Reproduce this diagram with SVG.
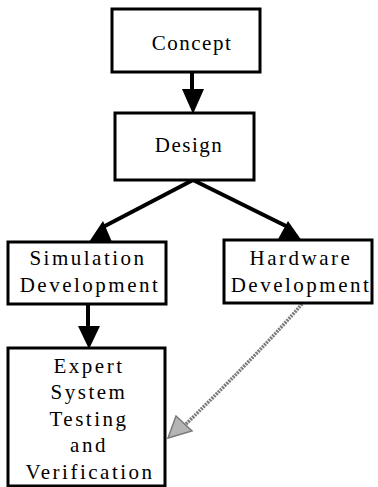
<svg xmlns="http://www.w3.org/2000/svg" width="378" height="487" viewBox="0 0 378 487">
<style>
.box{fill:#fff;stroke:#000;stroke-width:3}
.t{font-family:"Liberation Serif","Times New Roman",serif;font-size:21px;fill:#000;text-anchor:middle;letter-spacing:2.5px}
.c{fill:none;stroke:#000;stroke-width:4}
.h{fill:#000;stroke:none}
</style>
<rect width="378" height="487" fill="#fff"/>
<g id="connectors">
<line class="c" x1="192" y1="72" x2="192" y2="92" stroke-width="3"/>
<polygon class="h" points="182,89 204,89 193,114"/>
<line class="c" x1="193" y1="180" x2="103" y2="227"/>
<polygon class="h" points="89,242 112,242 103,221"/>
<line class="c" x1="193" y1="180" x2="288" y2="227"/>
<polygon class="h" points="277,241 302,241 288,221"/>
<line class="c" x1="88" y1="304" x2="88" y2="330" stroke-width="3"/>
<polygon class="h" points="78,326 100,326 89,349"/>
<path d="M302,304 Q262,350 186,424" fill="none" stroke="#7a7a7a" stroke-width="3.5" stroke-dasharray="2 1"/>
<polygon points="168,438 176,416 192,431" fill="#b5b5b5" stroke="#7a7a7a" stroke-width="1.5"/>
</g>
<g id="concept">
<rect class="box" x="112" y="9" width="148" height="63"/>
<text class="t" x="192" y="50" style="letter-spacing:1.5px">Concept</text>
</g>
<g id="design">
<rect class="box" x="115" y="113" width="139" height="67"/>
<text class="t" x="189" y="152" style="letter-spacing:1.5px">Design</text>
</g>
<g id="simulation">
<rect class="box" x="8" y="242" width="158" height="62"/>
<text class="t" x="88" y="265">Simulation</text>
<text class="t" x="90" y="292">Development</text>
</g>
<g id="hardware">
<rect class="box" x="224" y="240" width="148" height="63"/>
<text class="t" x="301" y="265">Hardware</text>
<text class="t" x="301" y="292">Development</text>
</g>
<g id="expert">
<rect class="box" x="8" y="348" width="157" height="138"/>
<text class="t" x="89" y="373">Expert</text>
<text class="t" x="89" y="399">System</text>
<text class="t" x="89" y="426">Testing</text>
<text class="t" x="89" y="452">and</text>
<text class="t" x="90" y="479">Verification</text>
</g>
</svg>
